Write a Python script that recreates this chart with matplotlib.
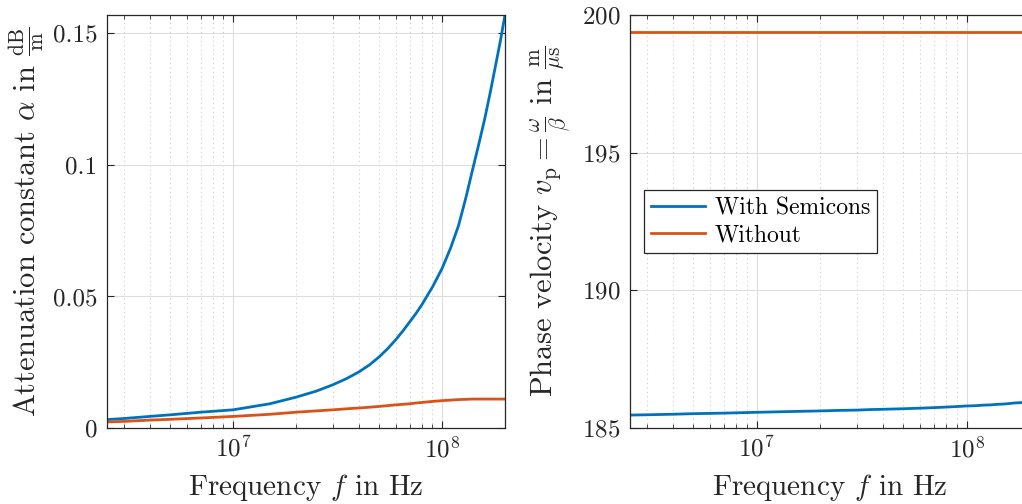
import matplotlib
matplotlib.use('Agg')
from matplotlib import pyplot as plt
from matplotlib.ticker import LogLocator, NullFormatter

# values
freq = [2.5e6, 3e6, 4e6, 5e6, 7e6, 1e7, 1.5e7, 2e7, 2.5e7, 3e7, 3.5e7, 4e7,
        4.5e7, 5e7, 5.5e7, 6e7, 6.5e7, 7e7, 7.5e7, 8e7, 9e7, 1e8, 1.1e8, 1.2e8,
        1.3e8, 1.4e8, 1.5e8, 1.6e8, 1.7e8, 1.8e8, 1.9e8, 2e8]
alpha_semi = [0.0032, 0.0036, 0.0044, 0.0050, 0.0060, 0.0069, 0.0092, 0.0117,
              0.0140, 0.0164, 0.0188, 0.0213, 0.0240, 0.0270, 0.0302, 0.0335,
              0.0369, 0.0403, 0.0435, 0.0468, 0.0536, 0.0606, 0.0685, 0.0770,
              0.0875, 0.0982, 0.1080, 0.1175, 0.1275, 0.1375, 0.1470, 0.1570]
alpha_without = [0.0023, 0.0025, 0.0030, 0.0033, 0.0038, 0.0044, 0.0052, 0.0060,
                 0.0065, 0.0069, 0.0073, 0.0076, 0.0079, 0.0082, 0.0085, 0.0088,
                 0.0090, 0.0092, 0.0095, 0.0097, 0.0101, 0.0104, 0.0106, 0.0108,
                 0.0109, 0.0110, 0.0110, 0.0110, 0.0110, 0.0110, 0.0110, 0.0110]
vp_semi = [185.47, 185.48, 185.50, 185.52, 185.54, 185.57, 185.60, 185.62,
           185.64, 185.65, 185.67, 185.68, 185.69, 185.70, 185.71, 185.72,
           185.73, 185.74, 185.75, 185.76, 185.78, 185.80, 185.81, 185.83,
           185.84, 185.86, 185.87, 185.89, 185.91, 185.92, 185.94, 185.95]
vp_without = [199.39] * len(freq)

labels = ['With Semicons', 'Without']
colors = ['#0072BD', '#D95319']

plt.rcParams['font.family'] = 'serif'
plt.rcParams['font.serif'] = ['cmr10']
plt.rcParams['mathtext.fontset'] = 'cm'
plt.rcParams['axes.formatter.use_mathtext'] = True
plt.rcParams['axes.unicode_minus'] = False

fig = plt.figure(figsize=(10.22, 5.04), dpi=100)
ax1 = fig.add_axes([0.1047, 0.1508, 0.3894, 0.8194])
ax2 = fig.add_axes([0.6164, 0.1508, 0.3914, 0.8194])


def style(ax):
    ax.set_xscale('log')
    ax.set_xlim(2.5e6, 2e8)
    ax.xaxis.set_minor_locator(LogLocator(base=10, subs=range(2, 10), numticks=20))
    ax.xaxis.set_minor_formatter(NullFormatter())
    ax.grid(True, which='major', color='#dddddd', lw=0.8, ls='-')
    ax.grid(True, which='minor', axis='x', color='#cccccc', lw=0.8, ls=(0, (1, 3)))
    ax.set_axisbelow(True)
    ax.tick_params(which='both', direction='in', top=True, right=True, colors='#262626')
    ax.tick_params(axis='y', labelsize=18, pad=7)
    ax.tick_params(axis='x', labelsize=18, pad=6)
    ax.tick_params(which='major', length=5)
    ax.tick_params(which='minor', length=3)
    for s in ax.spines.values():
        s.set_color('#262626')
        s.set_linewidth(0.9)
    ax.set_xlabel(r'Frequency $f$ in Hz', fontsize=21, color='#262626', labelpad=7)


ax1.plot(freq, alpha_semi, c=colors[0], lw=2, label=labels[0])
ax1.plot(freq, alpha_without, c=colors[1], lw=2, label=labels[1])
style(ax1)
ax1.set_ylim(0, 0.157)
ax1.set_yticks([0, 0.05, 0.1, 0.15])
ax1.set_yticklabels(['0', '0.05', '0.1', '0.15'])
ax1.set_ylabel(r'Attenuation constant $\alpha$ in $\frac{\mathrm{dB}}{\mathrm{m}}$',
               fontsize=22, color='#262626', labelpad=4)

ax2.plot(freq, vp_semi, c=colors[0], lw=2, label=labels[0])
ax2.plot(freq, vp_without, c=colors[1], lw=2, label=labels[1])
style(ax2)
ax2.set_ylim(185, 200)
ax2.set_yticks([185, 190, 195, 200])
ax2.set_ylabel(r'Phase velocity $v_\mathrm{p} = \frac{\omega}{\beta}$ in $\frac{\mathrm{m}}{\mu\mathrm{s}}$',
               fontsize=22, color='#262626', labelpad=6)
leg = ax2.legend(loc='upper left', bbox_to_anchor=(0.035, 0.576), borderaxespad=0,
                 fontsize=17, fancybox=False, framealpha=1, edgecolor='#262626',
                 handlelength=2.3, borderpad=0.3, labelspacing=0.2, handletextpad=0.4)
leg.get_frame().set_linewidth(0.9)

fig.savefig('out.png', dpi=100)
